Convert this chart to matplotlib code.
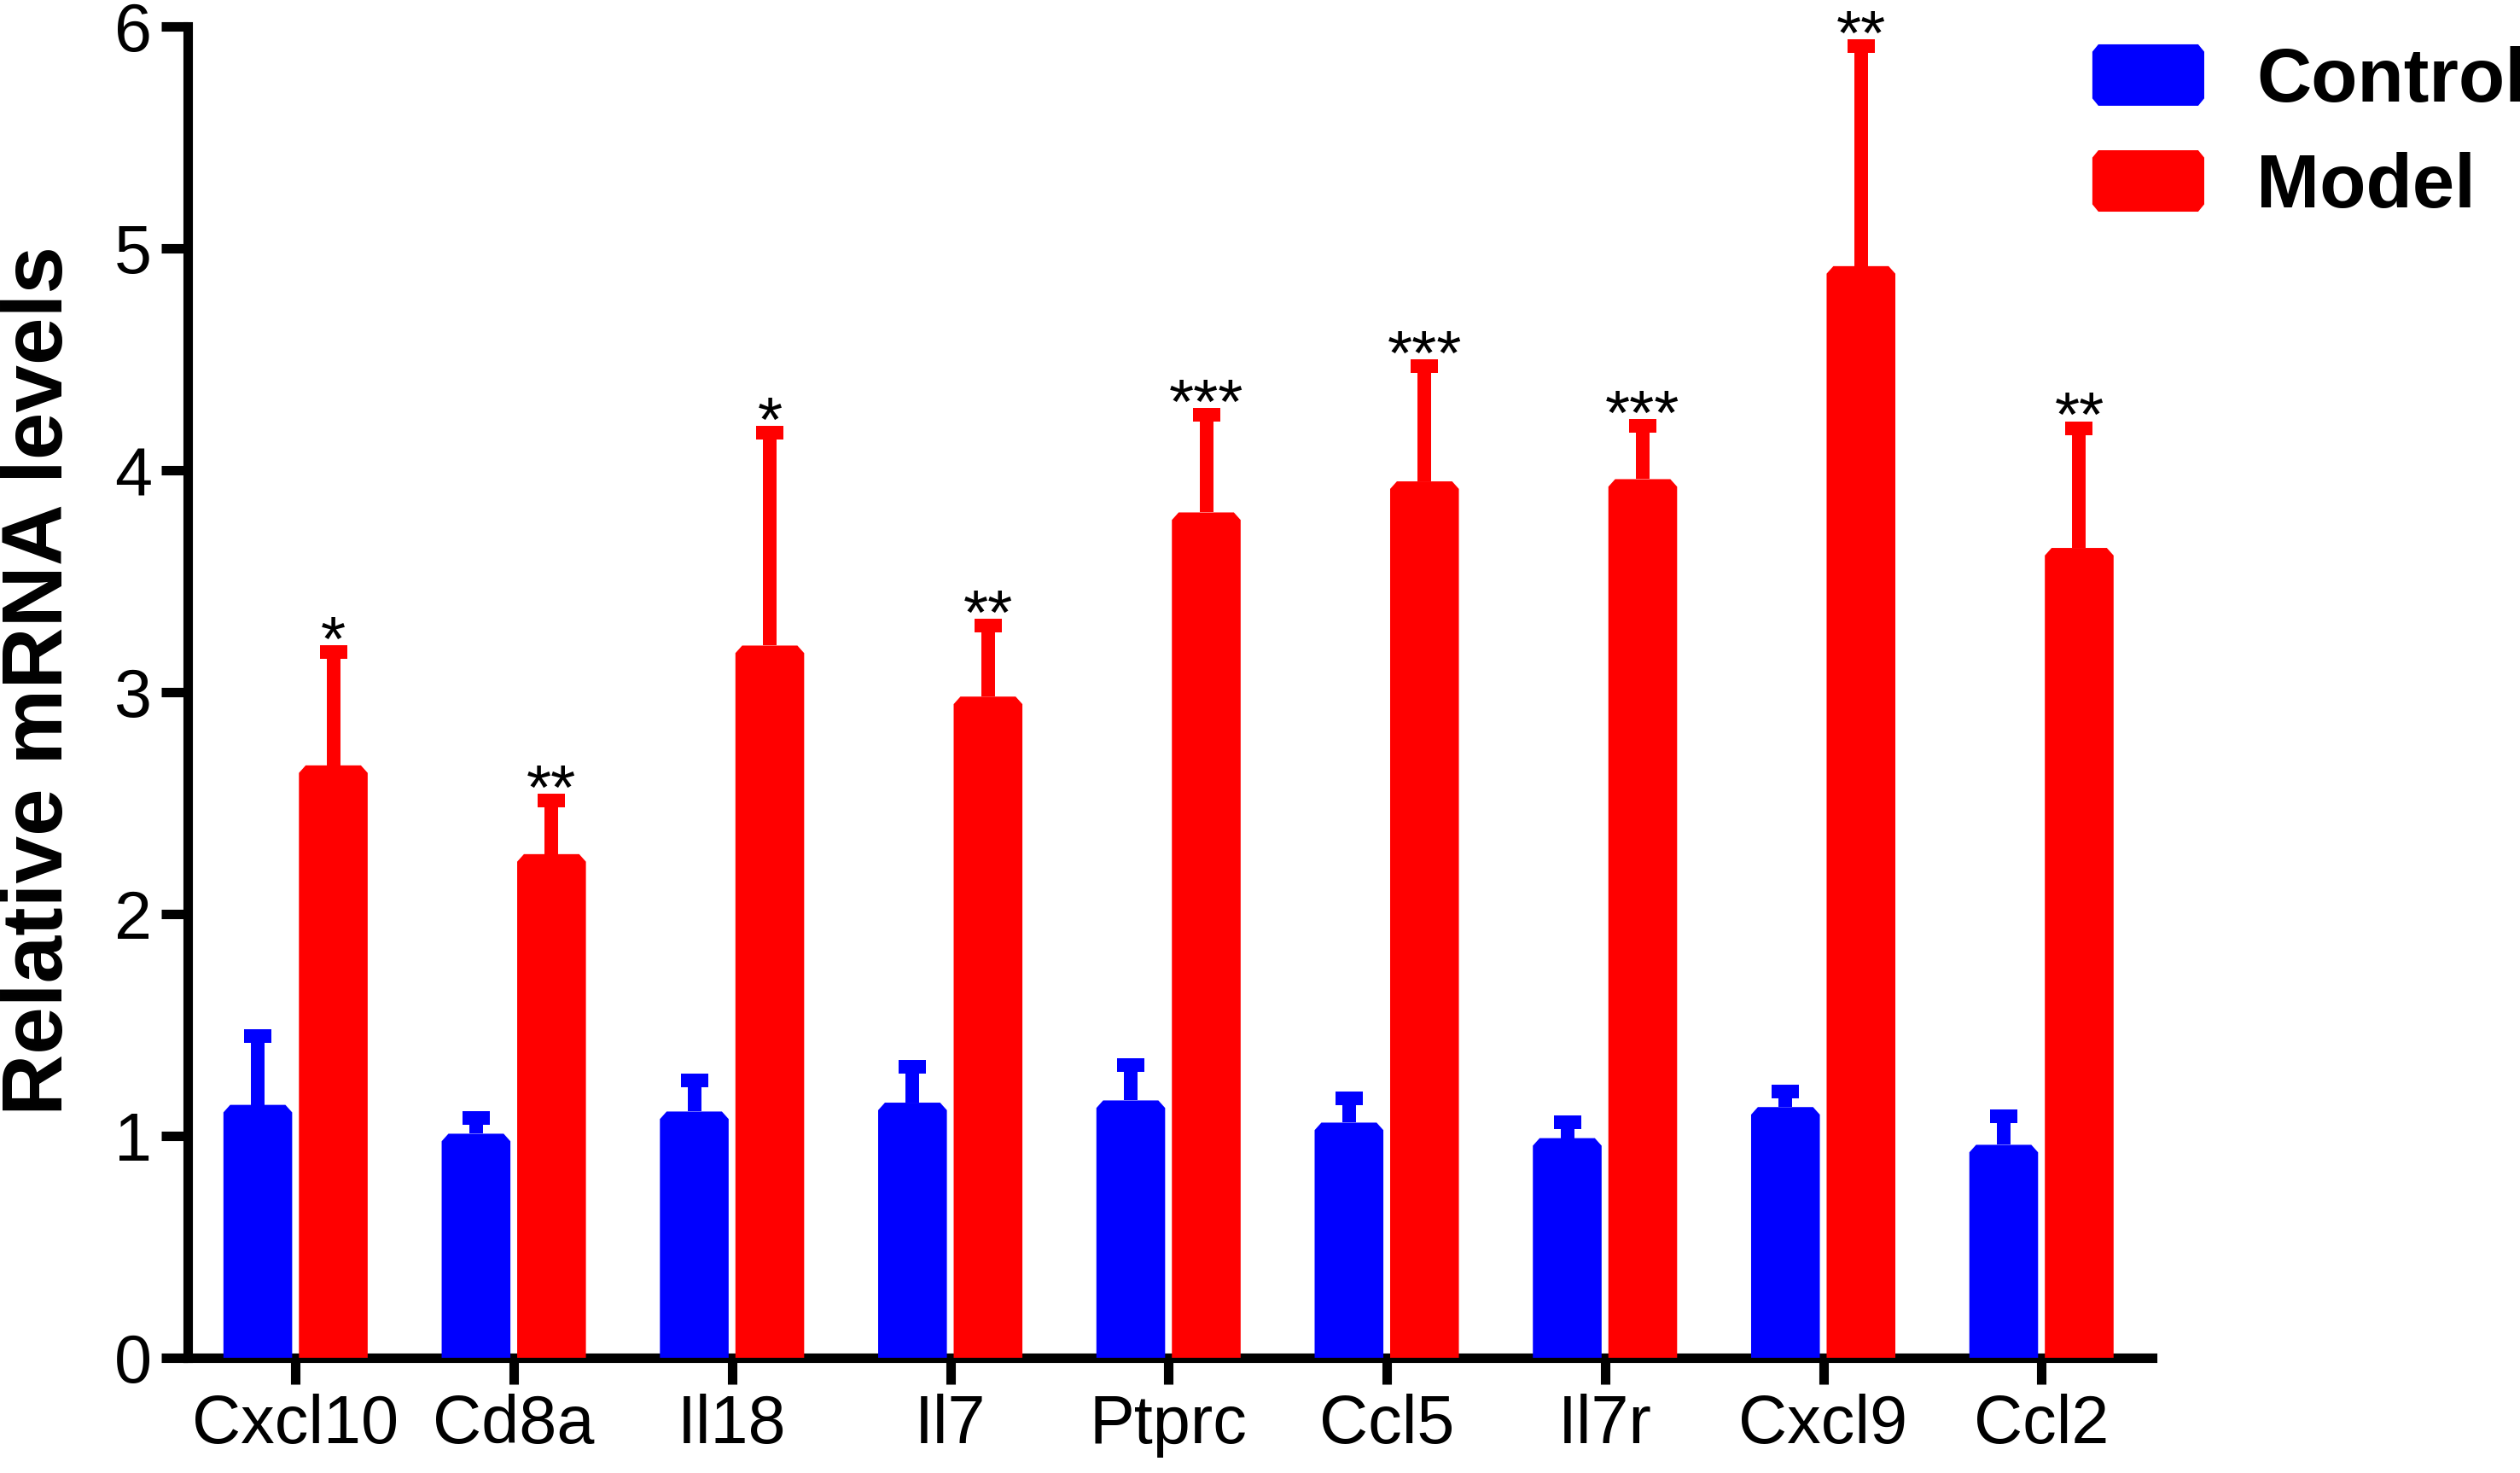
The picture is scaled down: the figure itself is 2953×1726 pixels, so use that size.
import matplotlib
matplotlib.use('Agg')
import matplotlib.pyplot as plt
from matplotlib.patches import Polygon
import numpy as np

# values (mean and upper SEM)
genes = ['Cxcl10', 'Cd8a', 'Il18', 'Il7', 'Ptprc', 'Ccl5', 'Il7r', 'Cxcl9', 'Ccl2']
control_mean = [1.14, 1.01, 1.11, 1.15, 1.16, 1.06, 0.99, 1.13, 0.96]
control_sem = [0.31, 0.07, 0.14, 0.16, 0.16, 0.11, 0.07, 0.07, 0.13]
model_mean = [2.67, 2.27, 3.21, 2.98, 3.81, 3.95, 3.96, 4.92, 3.65]
model_sem = [0.51, 0.24, 0.96, 0.32, 0.44, 0.52, 0.24, 0.99, 0.54]
stars = ['*', '**', '*', '**', '***', '***', '***', '**', '**']

plt.rcParams['font.family'] = 'Liberation Sans'

BLUE = '#0000ff'
RED = '#ff0000'


def chamfer_bars(ax, bars, color, dx=0.031, dy=0.034):
    # GraphPad style bars with cut top corners
    for b in bars:
        x0, w, h = b.get_x(), b.get_width(), b.get_height()
        pts = [(x0, 0), (x0, h - dy), (x0 + dx, h), (x0 + w - dx, h),
               (x0 + w, h - dy), (x0 + w, 0)]
        ax.add_patch(Polygon(pts, closed=True, facecolor=color,
                             edgecolor='none', zorder=3))
        b.set_visible(False)


def upper_errorbar(ax, xs, mean, sem, color):
    eb = ax.errorbar(xs, mean, yerr=[np.zeros(len(mean)), sem], fmt='none',
                     ecolor=color, elinewidth=11.5, capsize=11.5, capthick=11.5,
                     zorder=2)
    # only keep the cap at the top end
    for cap in eb[1]:
        if np.allclose(cap.get_ydata(), mean):
            cap.set_visible(False)


def legend_patch(fig, x0, y0, w, h, color, dx=0.0024, dy=0.005):
    pts = [(x0, y0 + dy), (x0, y0 + h - dy), (x0 + dx, y0 + h), (x0 + w - dx, y0 + h),
           (x0 + w, y0 + h - dy), (x0 + w, y0 + dy), (x0 + w - dx, y0), (x0 + dx, y0)]
    fig.patches.append(Polygon(pts, closed=True, facecolor=color, edgecolor='none',
                               transform=fig.transFigure, figure=fig))


fig = plt.figure(figsize=(29.53, 17.26), dpi=100)
ax = fig.add_axes([0.0745, 0.0782, 0.7796, 0.9038])

n = len(genes)
x = np.arange(n)
width = 0.315
off = 0.173

cb = ax.bar(x - off, control_mean, width, color=BLUE)
mb = ax.bar(x + off, model_mean, width, color=RED)
chamfer_bars(ax, cb, BLUE)
chamfer_bars(ax, mb, RED)

upper_errorbar(ax, x - off, control_mean, control_sem, BLUE)
upper_errorbar(ax, x + off, model_mean, model_sem, RED)

for i in range(n):
    ax.annotate(stars[i], (x[i] + off, model_mean[i] + model_sem[i]),
                xytext=(0, -7), textcoords='offset points',
                ha='center', va='baseline', fontsize=54)

ax.set_xlim(-0.494, 8.508)
ax.set_ylim(0, 6)
ax.set_yticks(range(7))
ax.set_xticks(x)
ax.set_xticklabels(genes)

for s in ['top', 'right']:
    ax.spines[s].set_visible(False)
for s in ['left', 'bottom']:
    ax.spines[s].set_linewidth(8)
ax.tick_params(axis='both', width=8, length=22, pad=8, labelsize=57, direction='out')

fig.text(0.0, 0.538, 'Relative mRNA levels', rotation=90, fontsize=72,
         fontweight='bold', ha='left', va='center')

# legend drawn by hand to place it like the original
legend_patch(fig, 0.8303, 0.9282, 0.0444, 0.0417, BLUE)
legend_patch(fig, 0.8303, 0.8563, 0.0444, 0.0417, RED)
fig.text(0.8954, 0.9312, 'Control', fontsize=64, fontweight='bold', va='baseline')
fig.text(0.8954, 0.8590, 'Model', fontsize=64, fontweight='bold', va='baseline')

fig.savefig('out.png', dpi=100)
